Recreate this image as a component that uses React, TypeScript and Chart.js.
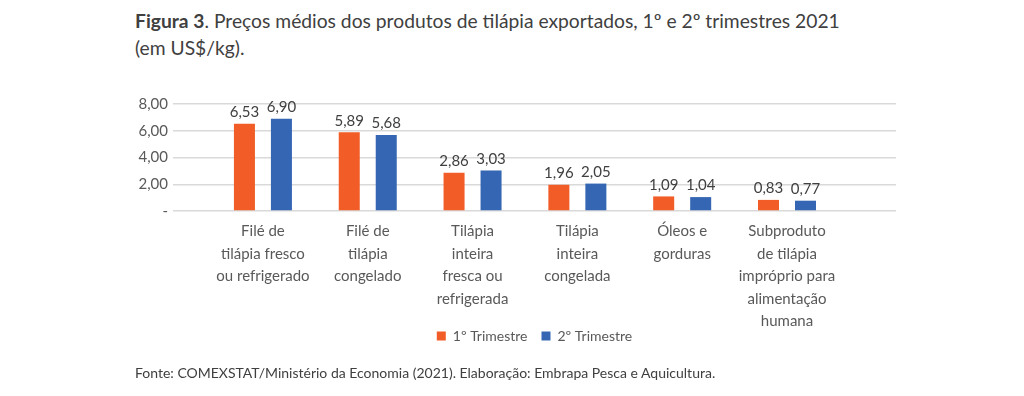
import React, { useEffect, useRef } from "react";
import { Chart, registerables } from "chart.js";

Chart.register(...registerables);

const categories: string[][] = [
  ["Filé de", "tilápia fresco", "ou refrigerado"],
  ["Filé de", "tilápia", "congelado"],
  ["Tilápia", "inteira", "fresca ou", "refrigerada"],
  ["Tilápia", "inteira", "congelada"],
  ["Óleos e", "gorduras"],
  ["Subproduto", "de tilápia", "impróprio para", "alimentação", "humana"],
];
const trimestre1: number[] = [6.53, 5.89, 2.86, 1.96, 1.09, 0.83];
const trimestre2: number[] = [6.9, 5.68, 3.03, 2.05, 1.04, 0.77];
const seriesNames: string[] = ["1º Trimestre", "2º Trimestre"];
const yTicks: number[] = [0, 2, 4, 6, 8];

const FONT = "Lato, 'Liberation Sans', sans-serif";
const fmt = (v: number) => v.toFixed(2).replace(".", ",");

const valueLabels = {
  id: "valueLabels",
  afterDatasetsDraw(chart: any) {
    const ctx = chart.ctx;
    ctx.save();
    ctx.font = `15px ${FONT}`;
    ctx.fillStyle = "#404040";
    ctx.textAlign = "center";
    ctx.textBaseline = "bottom";
    chart.data.datasets.forEach((ds: any, di: number) => {
      const meta = chart.getDatasetMeta(di);
      meta.data.forEach((el: any, i: number) => {
        const v = ds.data[i].y;
        ctx.fillText(fmt(v), el.x, el.y - 4);
      });
    });
    ctx.restore();
  },
};

// place the legend just under the category labels, centred on the plot area
const legendPlacer = {
  id: "legendPlacer",
  afterLayout(chart: any) {
    const lg = chart.legend;
    if (!lg) return;
    const shift = 21;
    lg.top -= shift;
    lg.bottom -= shift;
    lg.left = chart.chartArea.left;
    lg.right = chart.chartArea.right;
  },
};

export default function App() {
  const ref = useRef<HTMLCanvasElement>(null);
  useEffect(() => {
    if (!ref.current) return;
    const chart = new Chart(ref.current, {
      type: "bar",
      data: {
        datasets: [
          {
            label: seriesNames[0],
            data: trimestre1.map((y, x) => ({ x, y })),
            backgroundColor: "#F25C27",
          },
          {
            label: seriesNames[1],
            data: trimestre2.map((y, x) => ({ x, y })),
            backgroundColor: "#3466B3",
          },
        ],
      },
      options: {
        animation: false,
        responsive: false,
        maintainAspectRatio: false,
        categoryPercentage: 0.706,
        barPercentage: 0.568,
        layout: { padding: { left: 0, right: 128, top: 104, bottom: 22 } },
        plugins: {
          legend: {
            position: "bottom",
            labels: {
              boxWidth: 9,
              boxHeight: 9,
              padding: 14,
              color: "#595959",
              font: { family: FONT, size: 14 },
            },
          },
          title: { display: false },
          tooltip: { enabled: false },
        },
        scales: {
          x: {
            type: "linear",
            min: -0.858,
            max: 6.04,
            offset: false,
            grid: { display: false, drawTicks: false, offset: false },
            border: { display: false },
            ticks: {
              stepSize: 1,
              includeBounds: false,
              autoSkip: false,
              maxRotation: 0,
              padding: 9,
              color: "#595959",
              font: { family: FONT, size: 15, lineHeight: 1.5 },
              callback: (v: any) => {
                const c = categories[v as number];
                return c ? c : "";
              },
            },
            afterFit: (s: any) => {
              s.height = 125;
            },
          },
          y: {
            min: 0,
            max: 8,
            grid: { color: "#D9D9D9", lineWidth: 1.5, drawTicks: false },
            border: { display: false },
            afterBuildTicks: (s: any) => {
              s.ticks = yTicks.map((value) => ({ value }));
            },
            ticks: {
              padding: 5,
              color: "#595959",
              font: { family: FONT, size: 15 },
              callback: (v: any) => (v === 0 ? "-" : fmt(v as number)),
            },
            afterFit: (s: any) => {
              s.width = 173;
            },
          },
        },
      },
      plugins: [valueLabels, legendPlacer],
    });
    return () => chart.destroy();
  }, []);

  return (
    <div style={{ position: "absolute", left: 0, top: 0, width: 1024, height: 396, background: "#fff", fontFamily: FONT, color: "#404040" }}>
      <div style={{ position: "absolute", left: 135, top: 7, fontSize: 19.25, lineHeight: "27px", whiteSpace: "nowrap" }}>
        <div>
          <b>Figura 3</b>. Preços médios dos produtos de tilápia exportados, 1º e 2º trimestres 2021
        </div>
        <div>(em US$/kg).</div>
      </div>
      <canvas ref={ref} width={1024} height={396} style={{ position: "absolute", left: 0, top: 0 }} />
      <div style={{ position: "absolute", left: 135, top: 364, fontSize: 14, lineHeight: "18px", whiteSpace: "nowrap" }}>
        Fonte: COMEXSTAT/Ministério da Economia (2021). Elaboração: Embrapa Pesca e Aquicultura.
      </div>
    </div>
  );
}
